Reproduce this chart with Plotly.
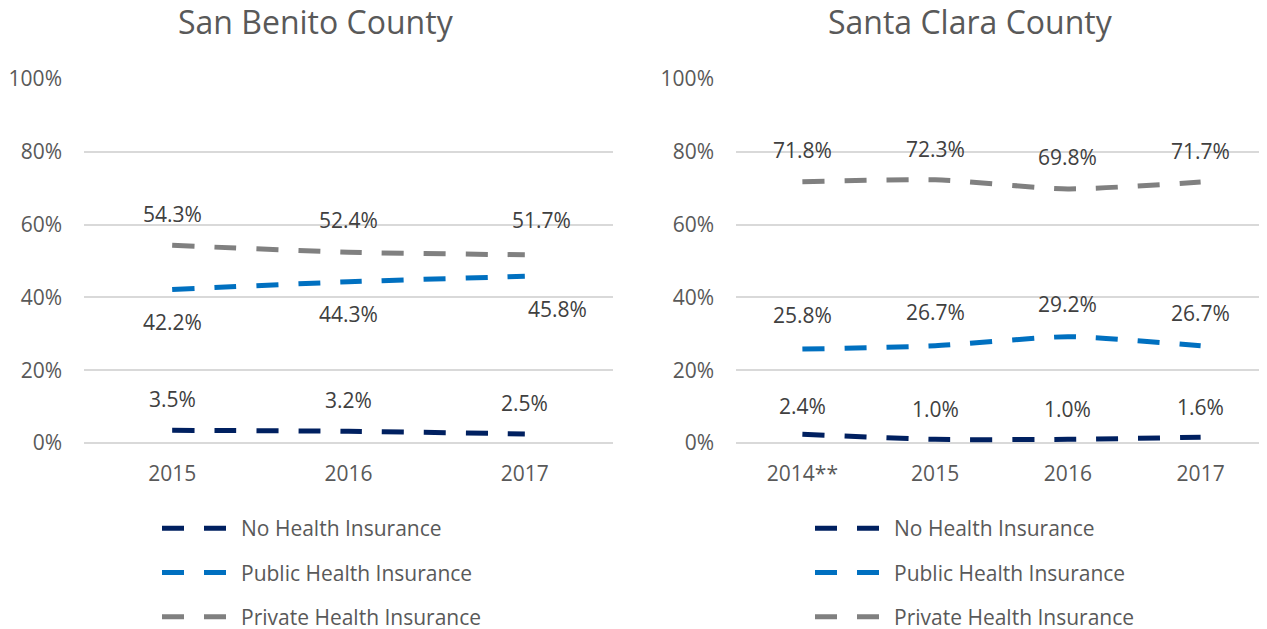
import plotly.graph_objects as go

# The page body adds an 8px margin; size the figure so it fills the window from there.
OFF = 8
W, H = 1267 - OFF, 629 - OFF

# ---- data ----
series_names = ["No Health Insurance", "Public Health Insurance", "Private Health Insurance"]

sb_title = "San Benito County"
sb_years = ["2015", "2016", "2017"]
sb_no = [3.5, 3.2, 2.5]
sb_public = [42.2, 44.3, 45.8]
sb_private = [54.3, 52.4, 51.7]

sc_title = "Santa Clara County"
sc_years = ["2014**", "2015", "2016", "2017"]
sc_no = [2.4, 1.0, 1.0, 1.6]
sc_public = [25.8, 26.7, 29.2, 26.7]
sc_private = [71.8, 72.3, 69.8, 71.7]

y_ticks = [0, 20, 40, 60, 80, 100]
y_tick_labels = ["0%", "20%", "40%", "60%", "80%", "100%"]

# ---- styles ----
colors = ["#002060", "#0070C0", "#808080"]
FONT = "Open Sans"
TICK_COLOR = "#595959"
LABEL_COLOR = "#404040"
GRID = "#D9D9D9"

# label offsets (pixels): per subplot, per series, per point
sb_yshift = [[31, 31, 31], [-33, -32, -33], [31, 32, 35]]
sb_xshift = [[0, 0, 0], [0, 0, 33], [0, 0, 17]]
sc_yshift = [[28, 30, 30, 30], [34, 34, 33, 33], [32, 31, 32, 31]]
sc_xshift = [[0, 0, 0, 0], [0, 0, 0, 0], [0, 0, 0, 0]]

fig = go.Figure()

def px2x(px):
    return (px - OFF) / W

def px2y(py):
    return 1 - (py - OFF) / H

panels = [
    (sb_years, [sb_no, sb_public, sb_private], "x", "y", "legend", sb_yshift, sb_xshift),
    (sc_years, [sc_no, sc_public, sc_private], "x2", "y2", "legend2", sc_yshift, sc_xshift),
]

annotations = []
for years, vals_list, xa, ya, leg, ysh, xsh in panels:
    for i, (name, vals) in enumerate(zip(series_names, vals_list)):
        fig.add_trace(go.Scatter(
            x=years, y=vals, name=name, mode="lines",
            line=dict(color=colors[i], width=5, dash="22px,20px", shape="spline", smoothing=0.6),
            xaxis=xa, yaxis=ya, legend=leg, legendgroup=leg + str(i),
            hoverinfo="skip",
        ))
        for j, v in enumerate(vals):
            annotations.append(dict(
                x=j, y=v, xref=xa, yref=ya, text=f"{v:.1f}%", showarrow=False,
                yshift=ysh[i][j], xshift=xsh[i][j],
                font=dict(family=FONT, size=21, color=LABEL_COLOR),
            ))

# titles
annotations.append(dict(x=px2x(316), y=px2y(22), xref="paper", yref="paper", text=sb_title,
                        showarrow=False, xanchor="center", yanchor="middle",
                        font=dict(family=FONT, size=32, color=TICK_COLOR)))
annotations.append(dict(x=px2x(970), y=px2y(22), xref="paper", yref="paper", text=sc_title,
                        showarrow=False, xanchor="center", yanchor="middle",
                        font=dict(family=FONT, size=32, color=TICK_COLOR)))

ydom = [px2y(443), px2y(79)]
axis_common_y = dict(range=[0, 100], tickvals=y_ticks, ticktext=y_tick_labels,
                     showgrid=True, gridcolor=GRID, gridwidth=1.5, zeroline=True,
                     zerolinecolor=GRID, zerolinewidth=1.5, showline=False, ticks="",
                     ticklabelstandoff=21, automargin=False,
                     tickfont=dict(family=FONT, size=21, color=TICK_COLOR), fixedrange=True)
axis_common_x = dict(type="category", showgrid=False, zeroline=False, showline=False, ticks="",
                     ticklabelstandoff=16, automargin=False,
                     tickfont=dict(family=FONT, size=21, color=TICK_COLOR), fixedrange=True)

legend_common = dict(font=dict(family=FONT, size=21, color=TICK_COLOR), traceorder="grouped",
                     tracegroupgap=14, itemwidth=74, bgcolor="rgba(0,0,0,0)",
                     xanchor="left", yanchor="top", itemclick=False, itemdoubleclick=False)

fig.update_layout(
    width=W, height=H,
    margin=dict(l=0, r=0, t=0, b=0, pad=0, autoexpand=False),
    paper_bgcolor="white", plot_bgcolor="white",
    showlegend=True,
    xaxis=dict(domain=[px2x(84), px2x(613)], anchor="y", range=[-0.5, len(sb_years) - 0.5],
               **axis_common_x),
    yaxis=dict(domain=ydom, anchor="x", **axis_common_y),
    xaxis2=dict(domain=[px2x(736), min(1.0, px2x(1267))], anchor="y2",
                range=[-0.5, len(sc_years) - 0.5], **axis_common_x),
    yaxis2=dict(domain=ydom, anchor="x2", **axis_common_y),
    legend=dict(x=px2x(157), y=px2y(508), **legend_common),
    legend2=dict(x=px2x(810), y=px2y(508), **legend_common),
    annotations=annotations,
)

fig.write_html("out.html")
